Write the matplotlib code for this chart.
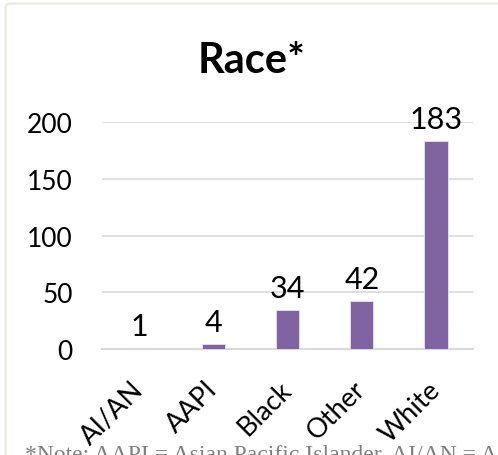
import matplotlib.pyplot as plt
from matplotlib.patches import FancyBboxPatch

categories = ['AI/AN', 'AAPI', 'Black', 'Other', 'White']
counts = [1, 4, 34, 42, 183]
yticks = [0, 50, 100, 150, 200]
note = '*Note: AAPI = Asian Pacific Islander, AI/AN = A'

plt.rcParams['font.family'] = ['Lato', 'DejaVu Sans']

fig = plt.figure(figsize=(4.98, 4.56), dpi=100)
fig.patch.set_facecolor('white')

# light frame round the chart area
frame = FancyBboxPatch((0.011, -0.05), 1.1, 1.04, boxstyle='round,pad=0,rounding_size=0.01',
                       transform=fig.transFigure, facecolor='none',
                       edgecolor='#ebe7dd', linewidth=1.5)
fig.patches.append(frame)

ax = fig.add_axes([0.205, 0.2325, 0.745, 0.4975])
x = range(len(categories))
bars = ax.bar(x, counts, width=0.31, color='#8064a2', edgecolor='#e8e0f0',
              linewidth=0.6, zorder=3)

for b, v in zip(bars, counts):
    ax.annotate(str(v), (b.get_x() + b.get_width() / 2, v), xytext=(0, 6),
                textcoords='offset points', ha='center', va='bottom',
                fontsize=22, annotation_clip=False, zorder=4)

ax.set_xlim(-0.5, len(categories) - 0.5)
ax.set_ylim(0, 200)
ax.set_yticks(yticks)
ax.set_xticks(list(x))
ax.set_xticklabels(categories, rotation=45, ha='right', va='center',
                   rotation_mode='anchor', fontsize=19.5)
ax.tick_params(axis='y', length=0, labelsize=19)
ax.tick_params(axis='x', length=0, pad=26)
ax.yaxis.grid(True, color='#d9d9d9', linewidth=1.2)
ax.set_axisbelow(True)
for s in ['top', 'right', 'left']:
    ax.spines[s].set_visible(False)
ax.spines['bottom'].set_color('#d9d9d9')
ax.spines['bottom'].set_linewidth(1.5)
ax.tick_params(axis='y', pad=21)

fig.text(0.505, 0.866, 'Race*', ha='center', va='center', fontsize=30, fontweight='bold')

fig.text(0.05, 0.024, note, ha='left', va='top', fontsize=17, color='#808080',
         family=['Liberation Serif', 'DejaVu Serif'])

fig.savefig('out.png', dpi=100)
